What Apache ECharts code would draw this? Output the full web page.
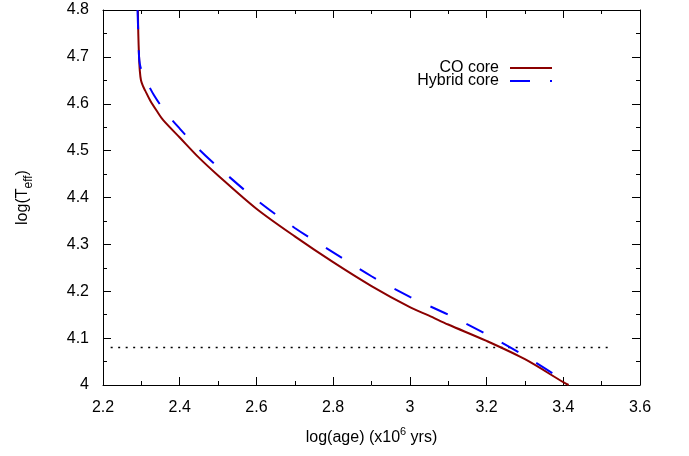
<!DOCTYPE html>
<html><head><meta charset="utf-8">
<script src="https://cdn.jsdelivr.net/npm/echarts@6/dist/echarts.min.js"></script>
<style>html,body{margin:0;padding:0;background:#fff}#c{width:689px;height:456px}</style>
</head><body><div id="c"></div>
<script>
const coAge = [2.291,2.292,2.294,2.296,2.299,2.304,2.310,2.323,2.340,2.357,2.400,2.450,2.500,2.600,2.700,2.800,2.900,3.000,3.050,3.100,3.200,3.300,3.400,3.414];
const coTeff = [4.80,4.75,4.70,4.67,4.65,4.638,4.628,4.607,4.585,4.565,4.528,4.485,4.447,4.376,4.317,4.262,4.211,4.166,4.148,4.129,4.094,4.055,4.006,4.000];
const hyAge = [2.290,2.292,2.294,2.296,2.300,2.310,2.333,2.364,2.400,2.450,2.500,2.600,2.700,2.800,2.900,3.000,3.100,3.200,3.300,3.400,3.415];
const hyTeff = [4.80,4.75,4.70,4.685,4.672,4.654,4.618,4.581,4.547,4.503,4.465,4.395,4.335,4.283,4.232,4.188,4.150,4.108,4.062,4.010,4.000];
const refAge = [2.22, 3.52];
const refTeff = [4.08, 4.08];
const xTicks = {min: 2.2, max: 3.6, step: 0.2};
const yTicks = {min: 4.0, max: 4.8, step: 0.1};

const pair = (a, b) => a.map((v, i) => [v, b[i]]);
const F = 'Liberation Sans, Arial, Helvetica, sans-serif';
const axLine = {show: true, lineStyle: {color: '#000', width: 1}};
const tick = {show: true, inside: true, length: 8, lineStyle: {color: '#000'}};
const minor = {show: true, splitNumber: 2, length: 4, lineStyle: {color: '#000'}};
const lab = {fontFamily: F, fontSize: 16, color: '#000'};

const chart = echarts.init(document.getElementById('c'), null, {renderer: 'canvas'});
chart.setOption({
  animation: false,
  backgroundColor: '#fff',
  grid: {left: 103, right: 49, top: 10, bottom: 71},
  legend: {
    orient: 'vertical', right: 131, top: 55, align: 'right',
    itemWidth: 42, itemHeight: 12, itemGap: -3,
    itemStyle: {color: 'rgba(0,0,0,0)', borderWidth: 0, opacity: 0},
    textStyle: {fontFamily: F, fontSize: 16, color: '#000', lineHeight: 12, padding: [0, 6, 0, 0]},
    data: [
      {name: 'CO core'},
      {name: 'Hybrid core', lineStyle: {type: [20, 20]}}
    ]
  },
  xAxis: [
    {type: 'value', min: xTicks.min, max: xTicks.max, interval: xTicks.step, position: 'bottom',
     axisLine: axLine, axisTick: tick, minorTick: minor, splitLine: {show: false},
     axisLabel: Object.assign({margin: 15}, lab),
     name: '{a|log(age) (x10}{s|6}{a| yrs)}', nameLocation: 'middle', nameGap: 41,
     nameTextStyle: {fontFamily: F, rich: {
       a: {fontFamily: F, fontSize: 16, color: '#000', lineHeight: 24},
       s: {fontFamily: F, fontSize: 11, color: '#000', lineHeight: 11, verticalAlign: 'top'}
     }}},
    {type: 'value', min: xTicks.min, max: xTicks.max, interval: xTicks.step, position: 'top',
     axisLine: axLine, axisTick: tick, minorTick: minor, splitLine: {show: false}, axisLabel: {show: false}}
  ],
  yAxis: [
    {type: 'value', min: yTicks.min, max: yTicks.max, interval: yTicks.step, position: 'left',
     axisLine: axLine, axisTick: tick, minorTick: minor, splitLine: {show: false},
     axisLabel: Object.assign({margin: 14}, lab),
     name: '{a|log(T}{s|eff}{a|)}', nameLocation: 'middle', nameGap: 68, nameRotate: 90,
     nameTextStyle: {fontFamily: F, rich: {
       a: {fontFamily: F, fontSize: 16, color: '#000', lineHeight: 24},
       s: {fontFamily: F, fontSize: 12, color: '#000', lineHeight: 12, verticalAlign: 'bottom'}
     }}},
    {type: 'value', min: yTicks.min, max: yTicks.max, interval: yTicks.step, position: 'right',
     axisLine: axLine, axisTick: tick, minorTick: minor, splitLine: {show: false}, axisLabel: {show: false}}
  ],
  series: [
    {name: 'ref', type: 'line', data: pair(refAge, refTeff), showSymbol: false, symbol: 'none',
     lineStyle: {color: '#000', width: 1.5, type: [2, 5.5]}, silent: true},
    {name: 'CO core', type: 'line', data: pair(coAge, coTeff), showSymbol: false, symbol: 'none', smooth: 0.3,
     color: '#8b0000', lineStyle: {color: '#8b0000', width: 2}},
    {name: 'Hybrid core', type: 'line', data: pair(hyAge, hyTeff), showSymbol: false, symbol: 'none', smooth: 0.3,
     color: '#0000ff', lineStyle: {color: '#0000ff', width: 2, type: [19, 21]}}
  ]
});
</script></body></html>
